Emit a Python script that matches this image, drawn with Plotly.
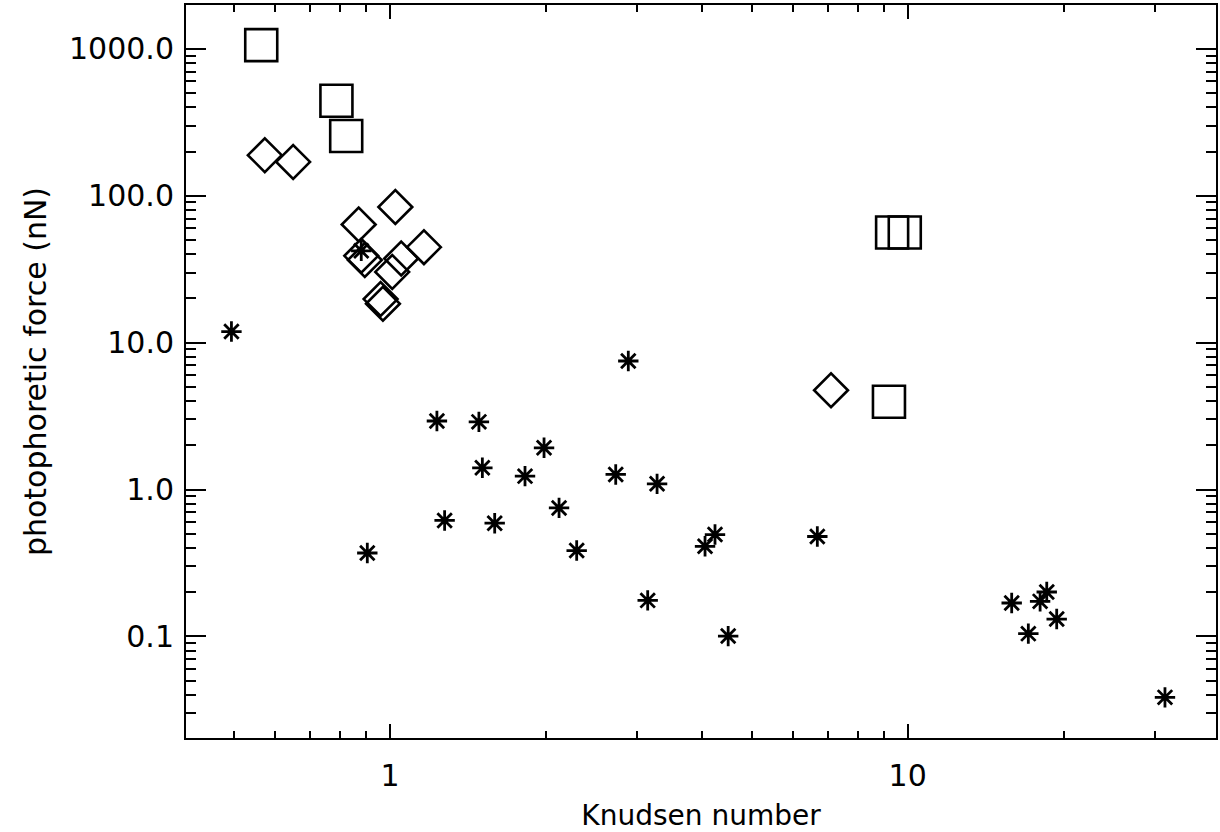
import numpy as np
import plotly.graph_objects as go

# Knudsen number (x) and photophoretic force in nN (y)
squares_x = [0.564, 0.788, 0.823, 9.33, 9.87, 9.20]
squares_y = [1061, 443, 255, 56.2, 56.2, 3.96]

diamonds_x = [0.573, 0.650, 0.870, 1.024, 0.880, 0.894, 1.010, 1.051, 1.163, 0.959, 0.969, 7.11]
diamonds_y = [189, 170, 63.7, 83.8, 39.0, 36.5, 30.3, 37.4, 44.7, 19.8, 18.4, 4.74]

stars_x = [0.494, 0.880, 1.232, 1.485, 1.508, 1.275, 1.593, 0.904, 2.886, 1.984,
           1.823, 2.729, 3.28, 2.121, 2.294, 4.244, 4.06, 6.69, 3.146, 4.50,
           15.88, 17.1, 18.02, 18.56, 19.4, 31.4]
stars_y = [11.9, 42.2, 2.93, 2.89, 1.406, 0.616, 0.590, 0.370, 7.50, 1.924,
           1.234, 1.267, 1.094, 0.750, 0.3845, 0.494, 0.411, 0.479, 0.176, 0.1006,
           0.169, 0.1045, 0.1734, 0.2008, 0.1314, 0.0385]

x_range = [0.4036, 39.4]
y_range = [0.02036, 1989]

FONT = "DejaVu Sans"

fig = go.Figure()
fig.add_trace(go.Scatter(
    x=squares_x, y=squares_y, mode="markers",
    marker=dict(symbol="square-open", size=32, color="black", line=dict(width=2.6, color="black")),
    showlegend=False, hoverinfo="skip"))
fig.add_trace(go.Scatter(
    x=diamonds_x, y=diamonds_y, mode="markers",
    marker=dict(symbol="diamond-open", size=26, color="black", line=dict(width=2.6, color="black")),
    showlegend=False, hoverinfo="skip"))
fig.add_trace(go.Scatter(
    x=stars_x, y=stars_y, mode="markers",
    marker=dict(symbol="asterisk-open", size=17, color="black", line=dict(width=2.8, color="black")),
    showlegend=False, hoverinfo="skip"))

fig.update_layout(
    width=1220, height=832,
    margin=dict(l=186, r=4, t=5, b=94),
    paper_bgcolor="white", plot_bgcolor="white",
    font=dict(family=FONT, size=28, color="black"),
)
fig.update_xaxes(
    type="log", range=[np.log10(x_range[0]), np.log10(x_range[1])],
    showgrid=False, zeroline=False,
    showline=True, linewidth=2, linecolor="black", mirror="allticks",
    ticks="inside", ticklen=14, tickwidth=2, tickcolor="black",
    dtick=1, tickfont=dict(family=FONT, size=30),
    ticklabelstandoff=10,
    minor=dict(ticks="inside", ticklen=7, tickwidth=2, tickcolor="black", dtick="D1", showgrid=False),
    title=dict(text="Knudsen number", font=dict(family=FONT, size=28), standoff=13),
    automargin=False,
)
fig.update_yaxes(
    type="log", range=[np.log10(y_range[0]), np.log10(y_range[1])],
    showgrid=False, zeroline=False,
    showline=True, linewidth=2, linecolor="black", mirror="allticks",
    ticks="inside", ticklen=20, tickwidth=2, tickcolor="black",
    dtick=1, tickformat=".1f", tickfont=dict(family=FONT, size=30),
    ticklabelstandoff=4,
    minor=dict(ticks="inside", ticklen=10, tickwidth=2, tickcolor="black", dtick="D1", showgrid=False),
    title=dict(text="photophoretic force (nN)", font=dict(family=FONT, size=30), standoff=14),
    automargin=False,
)

fig.write_html("out.html")
